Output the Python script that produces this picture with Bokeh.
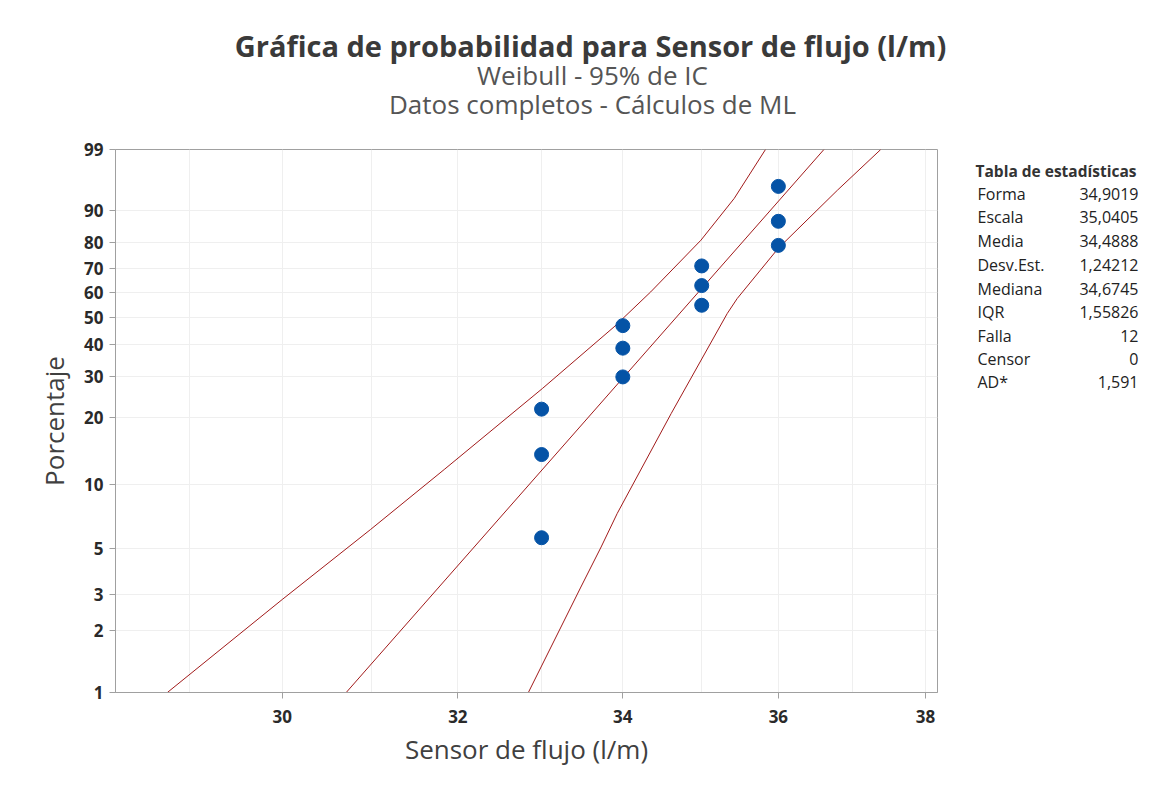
import numpy as np
from bokeh.plotting import figure
from bokeh.layouts import column, row
from bokeh.models import Range1d, FixedTicker, CustomJSTickFormatter
from bokeh.core.properties import value
from bokeh.embed import file_html
from bokeh.resources import INLINE

# ---- data ----
sensor = [33, 33, 33, 34, 34, 34, 35, 35, 35, 36, 36, 36]
percent = [5.6, 13.7, 21.8, 29.8, 38.7, 46.8, 54.8, 62.9, 71.0, 79.0, 87.1, 95.2]

forma = 34.9019
escala = 35.0405
fit_pct = [1, 99]

ci_left_x = [28.76, 30.00, 30.99, 31.84, 33.01, 33.89, 34.35, 34.99, 35.42, 35.83]
ci_left_pct = [1.0, 2.83, 6.13, 11.70, 26.69, 46.31, 60.28, 80.89, 92.93, 99.0]

ci_right_x = [32.84, 33.48, 33.73, 33.93, 34.61, 35.33, 35.46, 36.00, 36.79, 37.38]
ci_right_pct = [1.0, 3.25, 5.06, 7.30, 20.88, 51.50, 57.57, 77.96, 94.55, 99.0]

y_ticks_pct = [1, 2, 3, 5, 10, 20, 30, 40, 50, 60, 70, 80, 90, 99]
x_ticks = [30, 32, 34, 36, 38]
x_grid = [29, 30, 31, 32, 33, 34, 35, 36, 37, 38]

stats_title = "Tabla de estadísticas"
stats_labels = ["Forma", "Escala", "Media", "Desv.Est.", "Mediana", "IQR", "Falla", "Censor", "AD*"]
stats_values = ["34,9019", "35,0405", "34,4888", "1,24212", "34,6745", "1,55826", "12", "0", "1,591"]

title_main = "Gráfica de probabilidad para Sensor de flujo (l/m)"
title_sub1 = "Weibull - 95% de IC"
title_sub2 = "Datos completos - Cálculos de ML"


def wb(pct):
    return np.log(-np.log(1.0 - np.asarray(pct, dtype=float) / 100.0))


FONT = "Open Sans"
TOTAL_W = 1160
HEAD_H = 130
FRAME_L, FRAME_W, FRAME_H = 115, 822, 543
FRAME_TOP = 149
MAIN_RB = 10
MAIN_W = FRAME_L + FRAME_W + MAIN_RB
MAIN_TOP = FRAME_TOP - HEAD_H
MAIN_H = MAIN_TOP + FRAME_H + 90


def blank_fig(w, h, xr, yr):
    f = figure(width=w, height=h, x_range=xr, y_range=yr,
               min_border=0, x_axis_location=None, y_axis_location=None,
               output_backend="svg", toolbar_location=None)
    f.outline_line_color = None
    f.grid.visible = False
    return f


# ---- header with the three title lines ----
head = blank_fig(TOTAL_W, HEAD_H, Range1d(0, TOTAL_W), Range1d(HEAD_H, 0))
head.text(x=[590], y=[45], text=[title_main], text_align="center", text_baseline="middle",
          text_font=value(FONT), text_font_size="29px", text_font_style="bold",
          text_color="#3a3a3a")
head.text(x=[592, 592], y=[74, 103], text=[title_sub1, title_sub2], text_align="center",
          text_baseline="middle", text_font=value(FONT), text_font_size="26px",
          text_color="#555555")

# ---- main probability plot ----
p = figure(x_axis_type="log", x_range=Range1d(28.217, 38.168),
           y_range=Range1d(float(wb(1)), float(wb(99))),
           frame_width=FRAME_W, frame_height=FRAME_H,
           min_border_left=FRAME_L, min_border_right=MAIN_RB,
           min_border_top=MAIN_TOP, min_border_bottom=90,
           output_backend="svg", toolbar_location=None)
p.outline_line_color = "#a0a0a0"

p.xgrid.ticker = FixedTicker(ticks=x_grid)
p.ygrid.ticker = FixedTicker(ticks=[float(v) for v in wb(y_ticks_pct)])
for g in (p.xgrid, p.ygrid):
    g.grid_line_color = "#efefef"

p.xaxis.ticker = FixedTicker(ticks=x_ticks, minor_ticks=[])
p.xaxis.formatter = CustomJSTickFormatter(code="return tick.toFixed(0);")
p.yaxis.ticker = FixedTicker(ticks=[float(v) for v in wb(y_ticks_pct)], minor_ticks=[])
p.yaxis.formatter = CustomJSTickFormatter(
    code="return Math.round(100*(1-Math.exp(-Math.exp(tick)))).toString();")

for ax in (p.xaxis, p.yaxis):
    ax.axis_line_color = "#a0a0a0"
    ax.major_tick_line_color = "#a0a0a0"
    ax.major_tick_out = 6
    ax.major_tick_in = 0
    ax.minor_tick_out = 0
    ax.minor_tick_in = 0
    ax.major_label_text_font = FONT
    ax.major_label_text_font_size = "17px"
    ax.major_label_text_font_style = "bold"
    ax.major_label_text_color = "#2a2a2a"
    ax.axis_label_text_font = FONT
    ax.axis_label_text_font_size = "26px"
    ax.axis_label_text_font_style = "normal"
    ax.axis_label_text_color = "#404040"

p.xaxis.axis_label = "Sensor de flujo (l/m)"
p.yaxis.axis_label = "Porcentaje"
p.xaxis.major_label_standoff = 11
p.xaxis.axis_label_standoff = 5
p.yaxis.major_label_standoff = 6
p.yaxis.axis_label_standoff = 9

LINE_COLOR = "#a11a1a"
fit_x = [escala * float(np.exp(w / forma)) for w in wb(fit_pct)]
p.line(fit_x, wb(fit_pct), line_color=LINE_COLOR, line_width=1)
p.line(ci_left_x, wb(ci_left_pct), line_color=LINE_COLOR, line_width=1)
p.line(ci_right_x, wb(ci_right_pct), line_color=LINE_COLOR, line_width=1)

p.scatter(sensor, wb(percent), size=14, marker="circle",
          fill_color="#0553a6", line_color="#0553a6")

# ---- statistics table (its frame is aligned with the main plot frame) ----
TBL_W = TOTAL_W - MAIN_W
tbl = blank_fig(TBL_W, MAIN_H, Range1d(MAIN_W, TOTAL_W),
                Range1d(FRAME_TOP + FRAME_H, FRAME_TOP))
tbl.text(x=[975], y=[170], text=[stats_title], text_align="left",
         text_baseline="middle", text_font=value(FONT), text_font_size="15.5px",
         text_font_style="bold", text_color="#333333")
row_y = [193, 216, 240, 264, 288, 311, 335, 358, 381]
tbl.text(x=[977] * len(stats_labels), y=row_y, text=stats_labels,
         text_align="left", text_baseline="middle", text_font=value(FONT),
         text_font_size="16px", text_color="#222222")
tbl.text(x=[1138] * len(stats_values), y=row_y, text=stats_values,
         text_align="right", text_baseline="middle", text_font=value(FONT),
         text_font_size="16px", text_color="#222222")

layout = column(head, row(p, tbl, spacing=0), spacing=0)
open("out.html", "w").write(file_html(layout, INLINE))
